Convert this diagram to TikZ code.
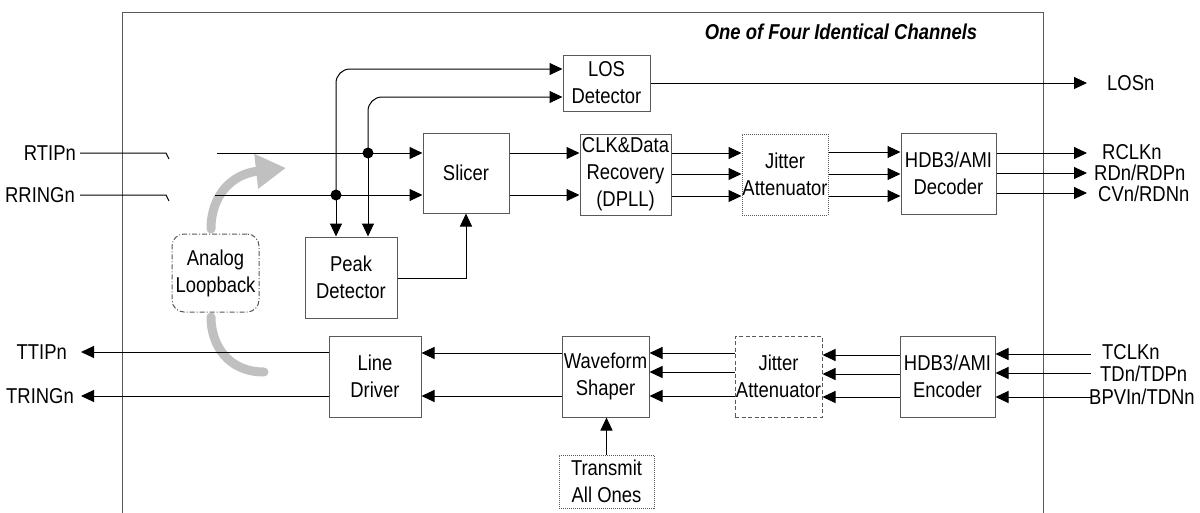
\documentclass[tikz,border=0pt]{standalone}
\usepackage{fontspec}
\setmainfont{Liberation Sans}[FakeStretch=0.857]
\usetikzlibrary{arrows.meta}
\definecolor{bordc}{HTML}{595959}
\definecolor{loopc}{HTML}{C0C0C0}
\begin{document}
\begin{tikzpicture}[x=1pt,y=-1pt,
  every node/.style={font=\fontsize{21.5}{27}\selectfont},
  blk/.style={draw=bordc, line width=1pt, inner sep=0pt, align=center},
  lbl/.style={inner sep=0pt, text height=14pt, text depth=0pt},
  ln/.style={line width=1pt, draw=black},
  arr/.style={-{Triangle[length=13pt,width=12pt]}},
  dotbox/.style={dash pattern=on 1pt off 1pt},
  dashbox/.style={dash pattern=on 4pt off 2.5pt},
  dashdotbox/.style={dash pattern=on 5pt off 2pt on 1pt off 2pt},
  loopline/.style={draw=loopc, line width=9pt}]
\useasboundingbox (0,0) rectangle (1200,512);
\clip (0,0) rectangle (1200,512);

% frame
\draw[draw=bordc, line width=1pt] (122,530) -- (122,12) -- (1043,12) -- (1043,530);
\node[font=\fontsize{21.5}{27}\selectfont\bfseries\itshape, inner sep=0pt] (title) at (841,32) {One of Four Identical Channels};

% blocks
\node[blk, minimum width=87pt, minimum height=56pt] (los) at (606.5,83) {LOS\\Detector};
\node[blk, minimum width=86pt, minimum height=80pt] (slicer) at (466,173) {Slicer};
\node[blk, minimum width=91pt, minimum height=81pt] (cdr) at (625.5,174.5) {CLK\&Data\\Recovery\\(DPLL)};
\node[blk, dotbox, minimum width=86pt, minimum height=81pt] (jarx) at (785,174.5) {Jitter\\Attenuator};
\node[blk, minimum width=95pt, minimum height=81pt] (dec) at (948.5,173.5) {HDB3/AMI\\Decoder};
\node[blk, minimum width=92pt, minimum height=81pt] (peak) at (351,277.5) {Peak\\Detector};
\node[blk, dashdotbox, rounded corners=12pt, minimum width=87pt, minimum height=78pt] (loop) at (215.5,273) {Analog\\Loopback};
\node[blk, minimum width=92pt, minimum height=81pt] (ld) at (375,376.5) {Line\\Driver};
\node[blk, minimum width=87pt, minimum height=81pt] (wave) at (605.5,376.5) {Waveform\\Shaper};
\node[blk, dashbox, minimum width=87pt, minimum height=81pt] (jatx) at (778.5,376.5) {Jitter\\Attenuator};
\node[blk, minimum width=95pt, minimum height=81pt] (enc) at (947.5,376.5) {HDB3/AMI\\Encoder};
\node[blk, dotbox, minimum width=95pt, minimum height=53pt] (txo) at (606.5,481.5) {Transmit\\All Ones};

% pin labels
\node[lbl, anchor=east] (rtip) at (76,153) {RTIPn};
\node[lbl, anchor=east] (rring) at (75,195) {RRINGn};
\node[lbl, anchor=east] (ttip) at (67,352) {TTIPn};
\node[lbl, anchor=east] (tring) at (74,396) {TRINGn};
\node[lbl, anchor=west] (losn) at (1107,83) {LOSn};
\node[lbl, anchor=west] (rclk) at (1102,152) {RCLKn};
\node[lbl, anchor=west] (rdp) at (1094,173) {RDn/RDPn};
\node[lbl, anchor=west] (cvn) at (1098,194) {CVn/RDNn};
\node[lbl, anchor=west] (tclk) at (1102,352) {TCLKn};
\node[lbl, anchor=west] (tdp) at (1100,374) {TDn/TDPn};
\node[lbl, anchor=west] (bpv) at (1089,397) {BPVIn/TDNn};

% coordinates
\coordinate (tk1) at (166,153);
\coordinate (tk2) at (166,195);
\coordinate (rs1) at (217,153);
\coordinate (rs2) at (215,195);
\coordinate (j1) at (368,153);
\coordinate (j2) at (336,195);
\coordinate (o0) at (1087,83);
\coordinate (o1) at (1087,153);
\coordinate (o2) at (1087,173);
\coordinate (o3) at (1087,193);
\coordinate (i1) at (1091,354);
\coordinate (i2) at (1091,373);
\coordinate (i3) at (1091,397);
\coordinate (tt1) at (81,352);
\coordinate (tt2) at (81,396);
\coordinate (la) at (211,229);
\coordinate (lt) at (286,168);
\coordinate (lb) at (211,317);
\coordinate (le) at (264,372);

% analog loopback arrow
\draw[loopline, line cap=round, -{Triangle[length=30pt,width=33pt]}] (la) .. controls (211,195) and (232,174) .. (lt);
\draw[loopline, line cap=round] (lb) .. controls (211,345) and (228,372) .. (le);

% receive side
\draw[ln] ([xshift=4pt]rtip.east) -- (tk1) -- ++(3,6);
\draw[ln] ([xshift=5pt]rring.east) -- (tk2) -- ++(3,6);
\draw[ln,arr] (rs1) -- (slicer.west |- rs1);
\draw[ln,arr] (rs2) -- (slicer.west |- rs2);
\draw[ln,arr] (j1) -- (peak.north -| j1);
\draw[ln,arr] (j2) -- (peak.north -| j2);
\draw[ln,arr,rounded corners=14pt] (j2) |- (los.west |- 0,69);
\draw[ln,arr,rounded corners=14pt] (j1) |- (los.west |- 0,97);
\fill (j1) circle (5.5pt);
\fill (j2) circle (5.5pt);
\draw[ln,arr] (peak.east |- 0,278) -| (slicer.south);
\draw[ln,arr] (slicer.east |- 0,153) -- (cdr.west |- 0,153);
\draw[ln,arr] (slicer.east |- 0,195) -- (cdr.west |- 0,195);
\foreach \yy in {153,174,196} {\draw[ln,arr] (cdr.east |- 0,\yy) -- (jarx.west |- 0,\yy);}
\foreach \yy in {152,174,196} {\draw[ln,arr] (jarx.east |- 0,\yy) -- (dec.west |- 0,\yy);}
\draw[ln,arr] (los.east) -- (o0);
\draw[ln,arr] (dec.east |- o1) -- (o1);
\draw[ln,arr] (dec.east |- o2) -- (o2);
\draw[ln,arr] (dec.east |- o3) -- (o3);

% transmit side
\draw[ln,arr] (i1) -- (enc.east |- i1);
\draw[ln,arr] (i2) -- (enc.east |- i2);
\draw[ln,arr] (i3) -- (enc.east |- i3);
\foreach \yy in {355,374,397} {\draw[ln,arr] (enc.west |- 0,\yy) -- (jatx.east |- 0,\yy);}
\foreach \yy in {353,372,396} {\draw[ln,arr] (jatx.west |- 0,\yy) -- (wave.east |- 0,\yy);}
\draw[ln,arr] (wave.west |- 0,353) -- (ld.east |- 0,353);
\draw[ln,arr] (wave.west |- 0,396) -- (ld.east |- 0,396);
\draw[ln,arr] (ld.west |- tt1) -- (tt1);
\draw[ln,arr] (ld.west |- tt2) -- (tt2);
\draw[ln,arr] (txo.north) -- (txo.north |- wave.south);
\end{tikzpicture}
\end{document}
